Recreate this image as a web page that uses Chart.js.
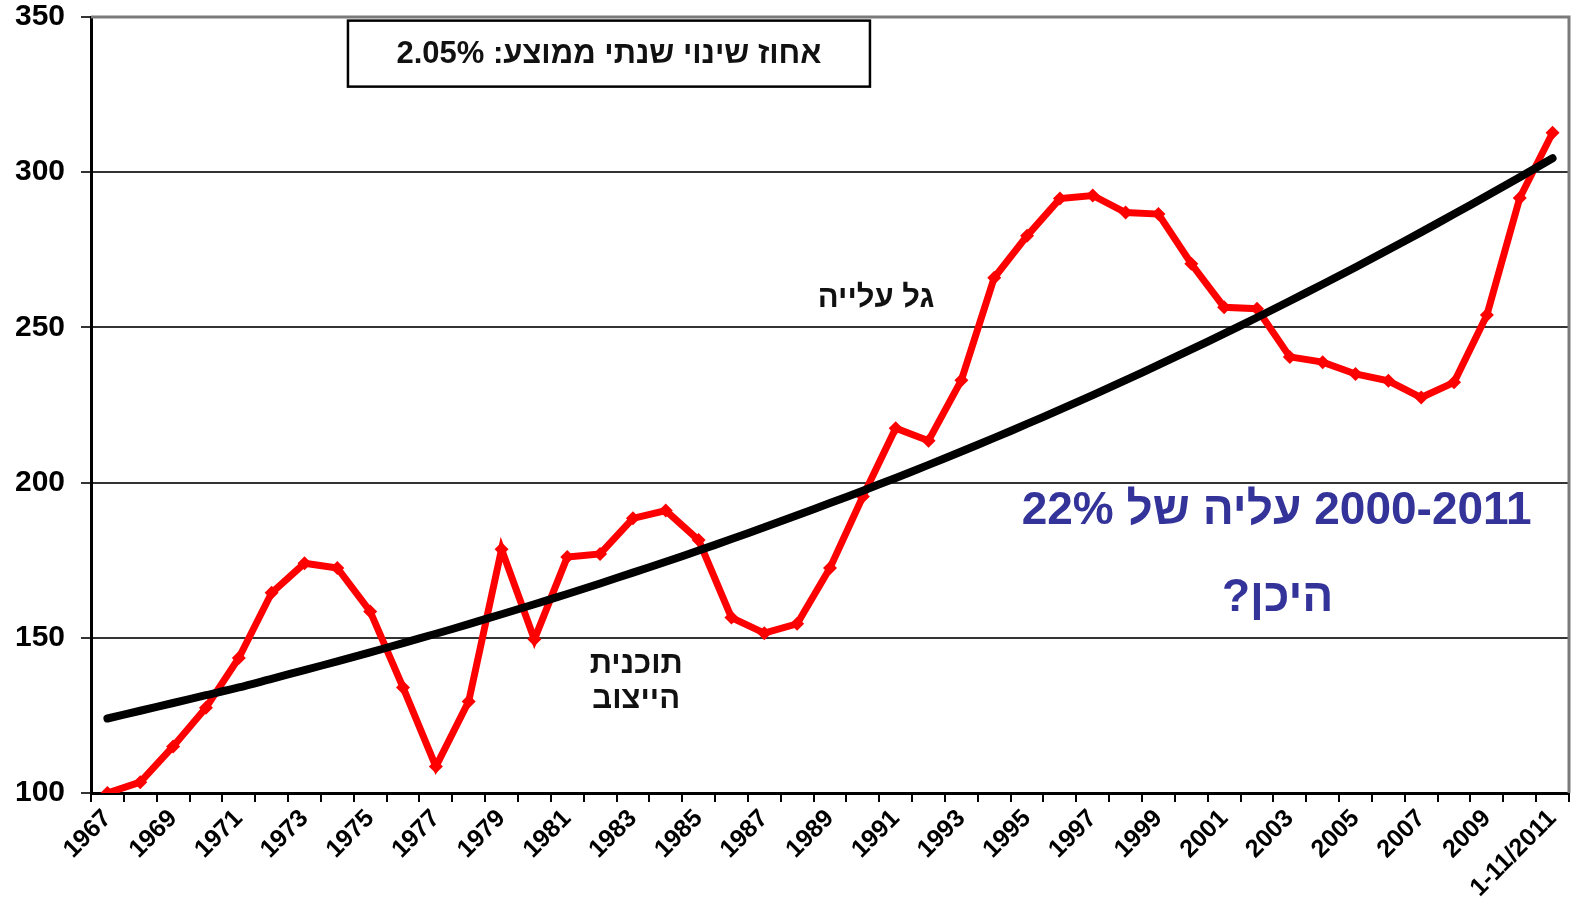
<!DOCTYPE html>
<html>
<head>
<meta charset="utf-8">
<script src="https://cdn.jsdelivr.net/npm/chart.js@4.4.1/dist/chart.umd.min.js"></script>
<style>
  html, body { margin: 0; padding: 0; background: #fff; }
  #wrap { width: 1576px; height: 904px; }
</style>
</head>
<body>
<div id="wrap"><canvas id="chart" width="1576" height="904"></canvas></div>
<script>
// years on the x axis (last one is a partial year)
const years = [
  "1967", "1968", "1969", "1970", "1971", "1972", "1973", "1974", "1975", "1976",
  "1977", "1978", "1979", "1980", "1981", "1982", "1983", "1984", "1985", "1986",
  "1987", "1988", "1989", "1990", "1991", "1992", "1993", "1994", "1995", "1996",
  "1997", "1998", "1999", "2000", "2001", "2002", "2003", "2004", "2005", "2006",
  "2007", "2008", "2009", "2010", "1-11/2011",
];

// index values (red line)
const indexValues = [
  100, 103.5, 115, 127.5, 143.5, 164.5, 174, 172.5, 158.5, 134,
  108.5, 129.5, 178.5, 149.5, 176, 177, 188.5, 191, 181.5, 156.5,
  151.5, 154.5, 172.5, 195.5, 217.5, 213.5, 233, 266, 279.5, 291.5,
  292.5, 287, 286.5, 270.5, 256.5, 256, 240.5, 238.8, 235, 232.8,
  227.4, 232.3, 254, 291.7, 312.7,
];

// trend line (black)
const trendValues = [
  124, 126.5, 129, 131.5, 134, 136.8, 139.6, 142.4, 145.3, 148.3,
  151.3, 154.4, 157.6, 160.8, 164.1, 167.5, 171, 174.5, 178.1, 181.8,
  185.6, 189.5, 193.4, 197.4, 201.5, 205.7, 210, 214.4, 218.9, 223.5,
  228.2, 233, 237.9, 242.9, 248, 253.2, 258.5, 263.9, 269.4, 275,
  280.7, 286.5, 292.4, 298.4, 304.5,
];

const yTicks = [100, 150, 200, 250, 300, 350];

const FONT = "'Liberation Sans', Arial, sans-serif";

// text notes on the chart, placed in data space (category index, value)
const notes = [
  { text: "גל עלייה", x: 23.4, y: 259.4, size: 31, color: "#111" },
  { text: "תוכנית", x: 16.1, y: 141.5, size: 31, color: "#111" },
  { text: "הייצוב", x: 16.1, y: 130.2, size: 31, color: "#111" },
  { text: "2000-2011 עליה של 22%", x: 35.6, y: 190.8, size: 46, color: "#333399" },
  { text: "היכן?", x: 35.63, y: 162.6, size: 46, color: "#333399" },
];
const boxNote = { text: "אחוז שינוי שנתי ממוצע: 2.05%", x: 15.27, y: 338.2 };

const overlay = {
  id: "overlay",
  afterDraw(chart) {
    const ctx = chart.ctx;
    const xs = chart.scales.x;
    const ys = chart.scales.y;
    const area = chart.chartArea;

    ctx.save();
    // grey frame on top and right
    ctx.strokeStyle = "#7a7a7a";
    ctx.lineWidth = 3;
    ctx.beginPath();
    ctx.moveTo(area.left, area.top);
    ctx.lineTo(area.right, area.top);
    ctx.lineTo(area.right, area.bottom);
    ctx.stroke();

    ctx.direction = "rtl";
    ctx.textAlign = "center";
    ctx.textBaseline = "middle";

    // boxed note at the top
    const bx = xs.getPixelForValue(boxNote.x);
    const by = ys.getPixelForValue(boxNote.y);
    ctx.fillStyle = "#fff";
    ctx.fillRect(bx - 261, by - 33, 522, 66);
    ctx.strokeStyle = "#000";
    ctx.lineWidth = 2.5;
    ctx.strokeRect(bx - 261, by - 33, 522, 66);
    ctx.fillStyle = "#111";
    ctx.font = "bold 31px " + FONT;
    ctx.fillText(boxNote.text, bx, by + 1);

    notes.forEach((n) => {
      ctx.fillStyle = n.color;
      ctx.font = "bold " + n.size + "px " + FONT;
      ctx.fillText(n.text, xs.getPixelForValue(n.x), ys.getPixelForValue(n.y));
    });
    ctx.restore();
  },
};

new Chart(document.getElementById("chart"), {
  type: "line",
  data: {
    labels: years,
    datasets: [
      {
        label: "trend",
        data: trendValues,
        borderColor: "#000",
        borderWidth: 8,
        pointRadius: 0,
        tension: 0.3,
        borderCapStyle: "round",
        order: 0,
      },
      {
        label: "index",
        data: indexValues,
        borderColor: "#ff0000",
        backgroundColor: "#ff0000",
        borderWidth: 7,
        pointStyle: "rectRot",
        pointRadius: 7,
        pointBorderWidth: 0,
        tension: 0,
        order: 1,
      },
    ],
  },
  options: {
    responsive: false,
    animation: false,
    layout: { padding: { top: 17, right: 4, left: 0, bottom: 0 } },
    plugins: {
      legend: { display: false },
      tooltip: { enabled: false },
    },
    scales: {
      x: {
        offset: true,
        grid: {
          offset: true,
          drawOnChartArea: false,
          drawTicks: true,
          tickLength: 9,
          color: "#000",
          lineWidth: 2,
        },
        border: { color: "#000", width: 3 },
        ticks: {
          autoSkip: false,
          maxRotation: 45,
          minRotation: 45,
          padding: 2,
          color: "#000",
          font: { family: FONT, size: 25, weight: "bold" },
          callback: (v, i) => (i % 2 === 0 ? years[i] : ""),
        },
        afterFit(scale) {
          scale.height = 111;
          scale.paddingLeft = 0;
          scale.paddingRight = 0;
        },
      },
      y: {
        min: 100,
        max: 350,
        afterBuildTicks(scale) {
          scale.ticks = yTicks.map((v) => ({ value: v }));
        },
        grid: {
          color: "#333",
          lineWidth: 2,
          tickLength: 10,
        },
        border: { color: "#000", width: 3 },
        ticks: {
          padding: 16,
          color: "#000",
          font: { family: FONT, size: 30, weight: "bold" },
        },
        afterFit(scale) {
          scale.width = 91;
          scale.paddingTop = 0;
          scale.paddingBottom = 0;
        },
      },
    },
  },
  plugins: [overlay],
});
</script>
</body>
</html>
